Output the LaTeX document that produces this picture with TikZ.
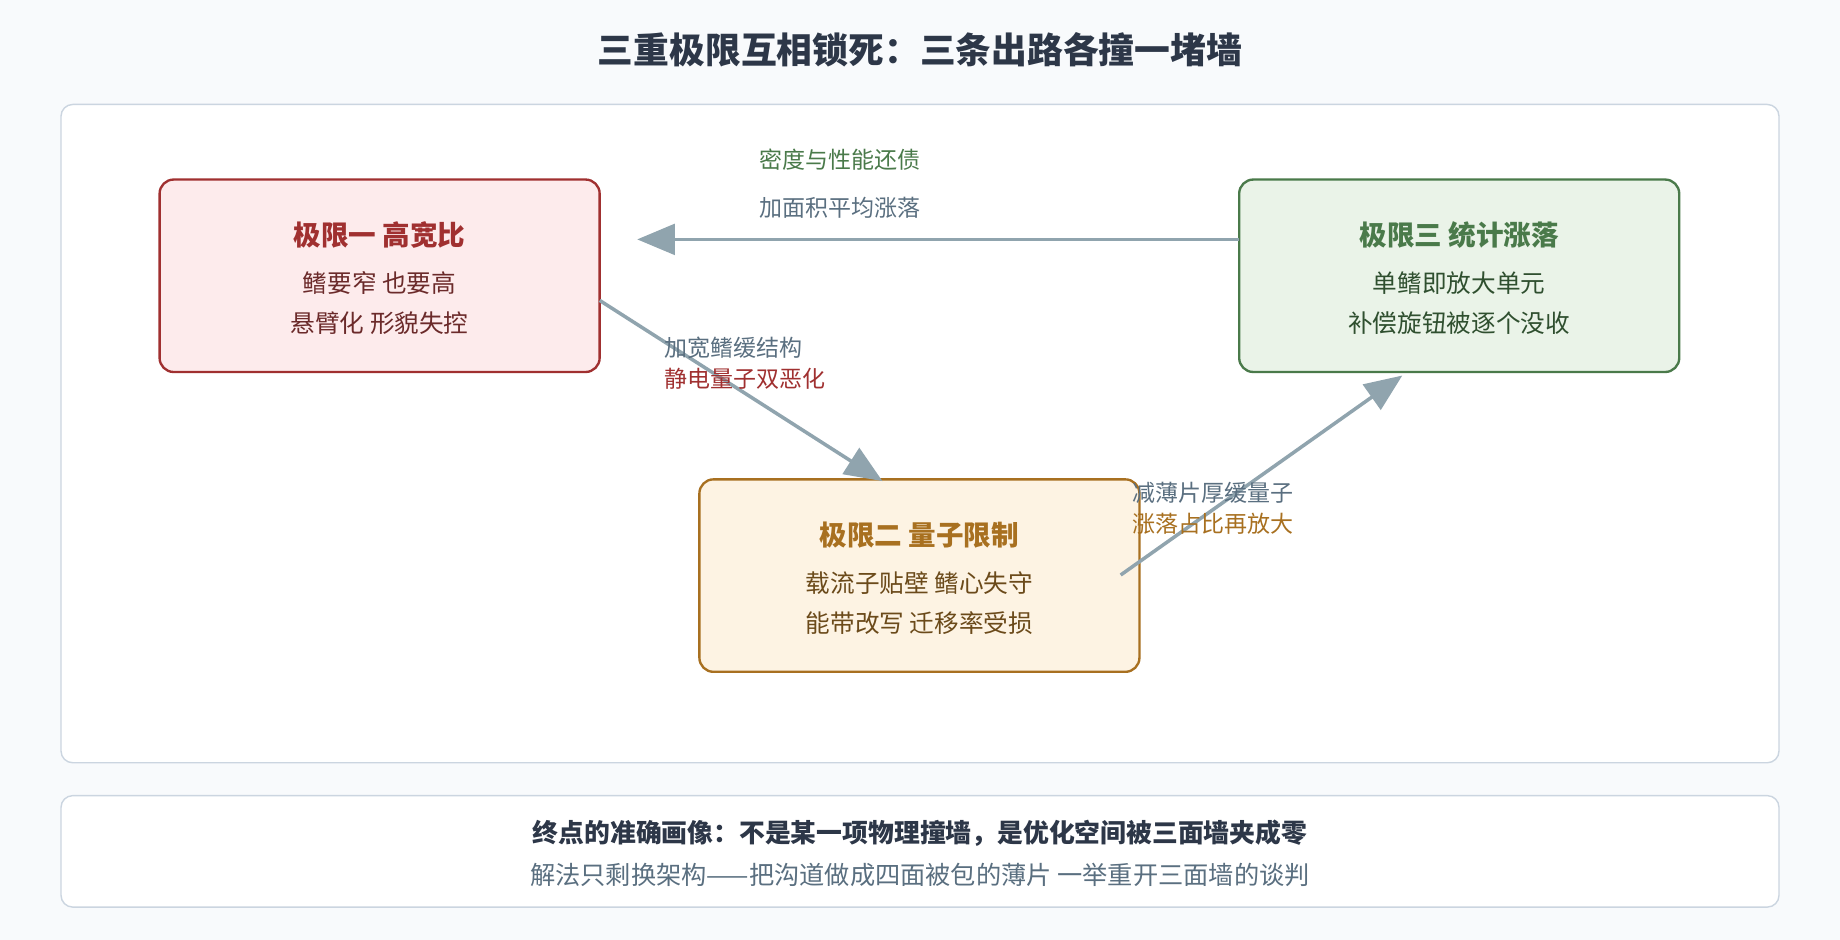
\documentclass[tikz,border=0pt]{standalone}
\usepackage{fontspec}
\setmainfont{Noto Sans CJK SC}
\usetikzlibrary{arrows.meta}
\definecolor{bg}{HTML}{F8FAFC}
\definecolor{panelb}{HTML}{CBD5E0}
\definecolor{dark}{HTML}{2D3748}
\definecolor{arr}{HTML}{90A4AE}
\definecolor{gtxt}{HTML}{5A6F80}
\definecolor{rb}{HTML}{A03030}\definecolor{rf}{HTML}{FDEBEC}\definecolor{rt}{HTML}{6B2A2A}
\definecolor{gb}{HTML}{4A7A4A}\definecolor{gf}{HTML}{EAF3E8}\definecolor{gt}{HTML}{2F4F2F}
\definecolor{ob}{HTML}{A87020}\definecolor{of}{HTML}{FDF3E3}\definecolor{ot}{HTML}{6B4A1A}
\begin{document}
\begin{tikzpicture}[x=1pt,y=-1pt,
  panel/.style={draw=panelb,fill=white,rounded corners=10pt,line width=1.2pt},
  lim/.style={rounded corners=12pt,line width=2pt,minimum width=375pt,minimum height=164pt},
  tt/.style={font=\fontsize{23.5}{27}\selectfont\bfseries},
  bt/.style={font=\fontsize{21}{25}\selectfont},
  lab/.style={font=\fontsize{19.6}{23}\selectfont},
  conn/.style={draw=arr,line width=3pt,-{Triangle[length=32pt,width=26pt]}}]
\useasboundingbox (0,0) rectangle (1568,801);
\fill[bg] (0,0) rectangle (1568,801);
\node[font=\fontsize{30.5}{34}\selectfont\bfseries,text=dark] (title) at (784,42) {三重极限互相锁死：三条出路各撞一堵墙};
\draw[panel] (52,89) rectangle (1516,650);
\draw[panel] (52,678) rectangle (1516,773);
\node[lim,draw=rb,fill=rf] (b1) at (323.5,235) {};
\node[lim,draw=gb,fill=gf] (b3) at (1243.5,235) {};
\node[lim,draw=ob,fill=of] (b2) at (783.5,490.5) {};
\node[tt,text=rb] (t1) at (323.5,200) {极限一 高宽比};
\node[bt,text=rt] (l1a) at (323.5,241) {鳍要窄 也要高};
\node[bt,text=rt] (l1b) at (323.5,275) {悬臂化 形貌失控};
\node[tt,text=gb] (t3) at (1243.5,200) {极限三 统计涨落};
\node[bt,text=gt] (l3a) at (1243.5,241) {单鳍即放大单元};
\node[bt,text=gt] (l3b) at (1243.5,275) {补偿旋钮被逐个没收};
\node[tt,text=ob] (t2) at (783.5,456) {极限二 量子限制};
\node[bt,text=ot] (l2a) at (783.5,497) {载流子贴壁 鳍心失守};
\node[bt,text=ot] (l2b) at (783.5,531) {能带改写 迁移率受损};
\coordinate (a1s) at (1056,204); \coordinate (a1e) at (543,204);
\coordinate (a2s) at (511,256); \coordinate (a2e) at (752,410);
\coordinate (a3s) at (955,490); \coordinate (a3e) at (1195,320);
\draw[conn] (a1s) -- (a1e);
\draw[conn] (a2s) -- (a2e);
\draw[conn] (a3s) -- (a3e);
\node[lab,text=gb] (m1) at (716,136) {密度与性能还债};
\node[lab,text=gtxt] (m2) at (716,177) {加面积平均涨落};
\node[lab,text=gtxt,anchor=west,inner sep=0pt] (m3) at (566,296) {加宽鳍缓结构};
\node[lab,text=rb,anchor=west,inner sep=0pt] (m4) at (566,323) {静电量子双恶化};
\node[lab,text=gtxt,anchor=west,inner sep=0pt] (m5) at (965,420) {减薄片厚缓量子};
\node[lab,text=ob,anchor=west,inner sep=0pt] (m6) at (965,446) {涨落占比再放大};
\node[font=\fontsize{22}{26}\selectfont\bfseries,text=dark] (f1) at (784,710) {终点的准确画像：不是某一项物理撞墙，是优化空间被三面墙夹成零};
\node[font=\fontsize{21.5}{25}\selectfont,text=gtxt] (f2) at (784,746) {解法只剩换架构——把沟道做成四面被包的薄片 一举重开三面墙的谈判};
\end{tikzpicture}
\end{document}
